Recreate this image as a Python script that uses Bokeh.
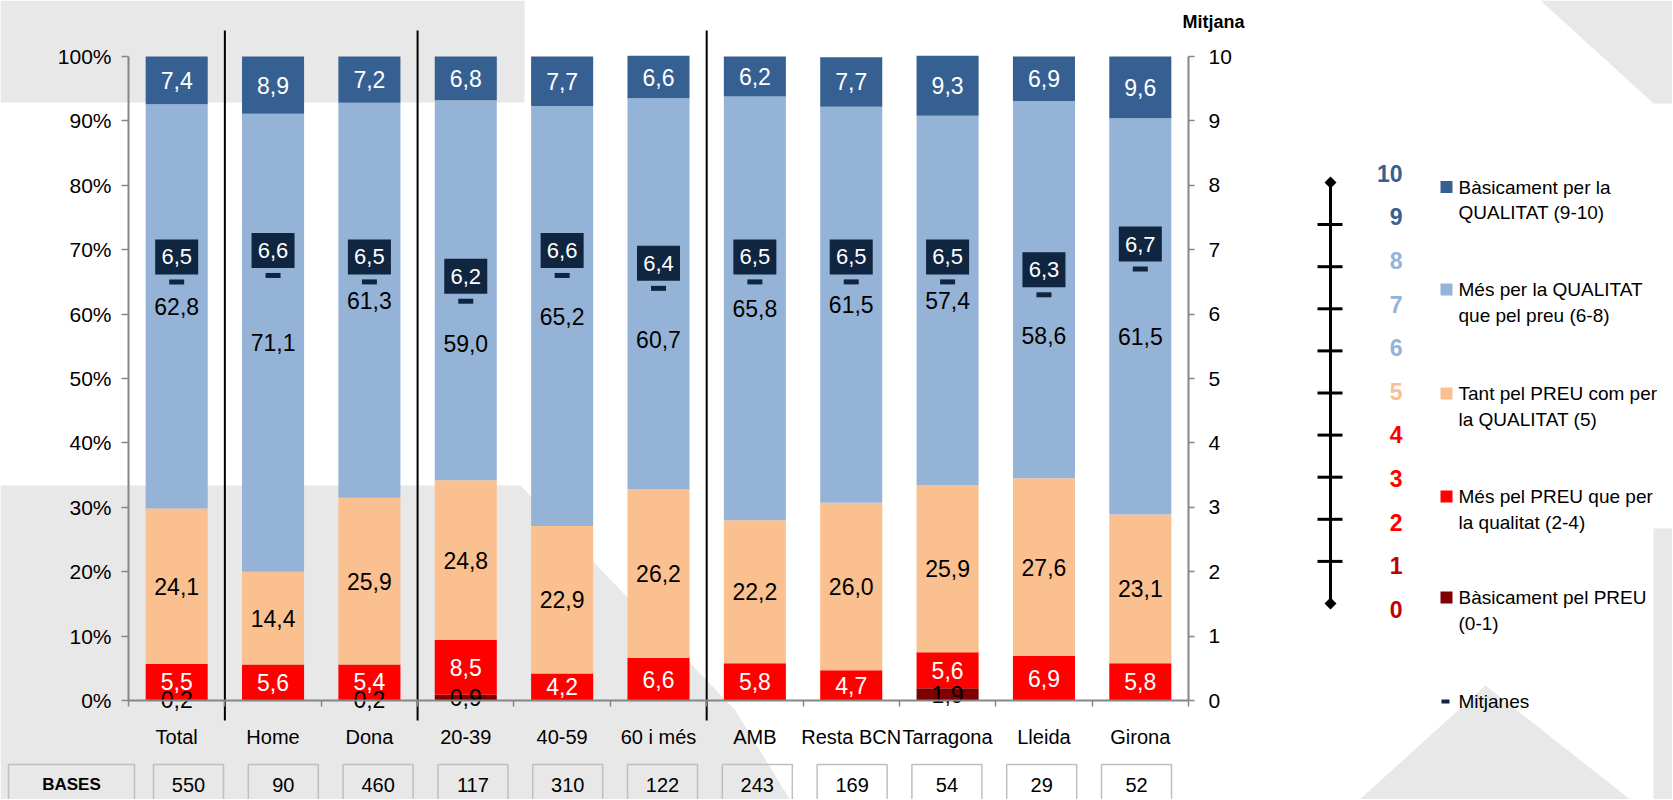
from bokeh.plotting import figure
from bokeh.models import ColumnDataSource, LinearAxis, Range1d, FixedTicker
from bokeh.core.properties import value
from bokeh.embed import file_html
from bokeh.resources import INLINE

# ---------------- data ----------------
categories = ["Total", "Home", "Dona", "20-39", "40-59", "60 i més",
              "AMB", "Resta BCN", "Tarragona", "Lleida", "Girona"]
group_sizes = [1, 2, 3, 5]
bases = [550, 90, 460, 117, 310, 122, 243, 169, 54, 29, 52]

basic_preu = [0.2, 0.0, 0.2, 0.9, 0.0, 0.0, 0.0, 0.0, 1.9, 0.0, 0.0]
mes_preu = [5.5, 5.6, 5.4, 8.5, 4.2, 6.6, 5.8, 4.7, 5.6, 6.9, 5.8]
tant = [24.1, 14.4, 25.9, 24.8, 22.9, 26.2, 22.2, 26.0, 25.9, 27.6, 23.1]
mes_qualitat = [62.8, 71.1, 61.3, 59.0, 65.2, 60.7, 65.8, 61.5, 57.4, 58.6, 61.5]
basic_qualitat = [7.4, 8.9, 7.2, 6.8, 7.7, 6.6, 6.2, 7.7, 9.3, 6.9, 9.6]
mitjana = [6.5, 6.6, 6.5, 6.2, 6.6, 6.4, 6.5, 6.5, 6.5, 6.3, 6.7]

pct_ticks = [0, 10, 20, 30, 40, 50, 60, 70, 80, 90, 100]
pct_labels = ["0%", "10%", "20%", "30%", "40%", "50%", "60%", "70%", "80%", "90%", "100%"]
mitjana_ticks = [0, 1, 2, 3, 4, 5, 6, 7, 8, 9, 10]

legend_lines = [
    ("Bàsicament per la", "QUALITAT (9-10)"),
    ("Més per la QUALITAT", "que pel preu (6-8)"),
    ("Tant pel PREU com per", "la QUALITAT (5)"),
    ("Més pel PREU que per", "la qualitat (2-4)"),
    ("Bàsicament pel PREU", "(0-1)"),
]
scale_values = [10, 9, 8, 7, 6, 5, 4, 3, 2, 1, 0]

# ---------------- style / layout ----------------
FONT = "Liberation Sans"
C_DBLUE = "#376092"
C_LBLUE = "#95B3D7"
C_PEACH = "#FAC090"
C_RED = "#FF0000"
C_DRED = "#7F0000"
NAVY = "#10253F"
GRAY_AX = "#868686"
BG_GRAY = "#E8E8E8"
scale_colors = [C_DBLUE, C_DBLUE, C_LBLUE, C_LBLUE, C_LBLUE, C_PEACH,
                C_RED, C_RED, C_RED, "#C00000", "#C00000"]
# downward nudge (px) of the "més per la qualitat" labels, moved clear of the mean boxes
lblue_label_nudge_px = [0, 0, 0, 53, 0, 46, 0, 0, 0, 46, 20]

W, H = 1672, 799
FL, FT, FR, FB = 128, 56, 1188, 700      # plot area in page pixels
n = len(categories)
xpos = list(range(n))
ppx = (FR - FL) / n
ppy = (FB - FT) / 100.0
M_SCALE = 10.0
BOX_LIFT = 25  # px between mean dash and its value box

x_rng = Range1d(-0.5 - FL / ppx, -0.5 + (W - FL) / ppx)
y_rng = Range1d(-(H - FB) / ppy, FB / ppy)
m_rng = Range1d(-(H - FB) / (ppy * M_SCALE), FB / (ppy * M_SCALE))
d = BOX_LIFT / (ppy * M_SCALE)
mbox_rng = Range1d(m_rng.start - d, m_rng.end - d)


def fmt(v):
    return f"{v:.1f}".replace(".", ",")


p = figure(width=W, height=H, min_border=0, x_range=x_rng, y_range=y_rng,
           x_axis_location=None, y_axis_location=None,
           output_backend="svg", toolbar_location=None,
           background_fill_color="white", border_fill_color="white",
           outline_line_color=None)
p.title.visible = False
p.grid.visible = False
p.extra_x_ranges = {"px": Range1d(0, W)}
p.extra_y_ranges = {"py": Range1d(H, 0), "mitjana": m_rng, "mbox": mbox_rng}
PX = dict(x_range_name="px", y_range_name="py")

# ---------------- background decoration ----------------
bg_xs = [[0, 524, 524, 0],
         [0, 520, 735, 790, 0],
         [1485, 1631, 1358],
         [1540, W, W, 1653],
         [1653, W, W, 1653]]
bg_ys = [[0, 0, 102, 102],
         [485, 485, 710, 800, 800],
         [685, 800, 800],
         [0, 0, 103, 103],
         [528, 528, 800, 800]]
p.patches(bg_xs, bg_ys, fill_color=BG_GRAY, line_color=None, **PX)

# ---------------- axes ----------------
xaxis = LinearAxis(fixed_location=0, bounds=(-0.5, n - 0.5),
                   ticker=FixedTicker(ticks=xpos, minor_ticks=[i - 0.5 for i in range(n + 1)]),
                   major_label_overrides={i: c for i, c in zip(xpos, categories)},
                   major_tick_out=0, major_tick_in=0,
                   minor_tick_out=6, minor_tick_in=0,
                   minor_tick_line_color=GRAY_AX, minor_tick_line_width=1.5,
                   axis_line_color=GRAY_AX, axis_line_width=2,
                   major_label_standoff=19,
                   major_label_text_font=FONT, major_label_text_font_size="20px",
                   major_label_text_color="black")
p.add_layout(xaxis, "below")

yaxis = LinearAxis(fixed_location=-0.5, bounds=(0, 100),
                   ticker=FixedTicker(ticks=pct_ticks),
                   major_label_overrides={t: l for t, l in zip(pct_ticks, pct_labels)},
                   major_tick_out=7, major_tick_in=0, minor_tick_out=0, minor_tick_in=0,
                   major_tick_line_color=GRAY_AX, major_tick_line_width=1.5,
                   axis_line_color=GRAY_AX, axis_line_width=2,
                   major_label_standoff=10,
                   major_label_text_font=FONT, major_label_text_font_size="21px",
                   major_label_text_color="black")
p.add_layout(yaxis, "left")

raxis = LinearAxis(y_range_name="mitjana", fixed_location=n - 0.5, bounds=(0, 10),
                   ticker=FixedTicker(ticks=mitjana_ticks),
                   major_tick_out=6, major_tick_in=0, minor_tick_out=0, minor_tick_in=0,
                   major_tick_line_color=GRAY_AX, major_tick_line_width=1.5,
                   axis_line_color=GRAY_AX, axis_line_width=2,
                   major_label_standoff=14,
                   major_label_text_font=FONT, major_label_text_font_size="21px",
                   major_label_text_color="black")
p.add_layout(raxis, "right")

# ---------------- bars ----------------
stackers = ["basic_preu", "mes_preu", "tant", "mes_qualitat", "basic_qualitat"]
series = [basic_preu, mes_preu, tant, mes_qualitat, basic_qualitat]
colors = [C_DRED, C_RED, C_PEACH, C_LBLUE, C_DBLUE]
label_colors = ["black", "white", "black", "black", "white"]
src = ColumnDataSource(dict(x=xpos, **{k: s for k, s in zip(stackers, series)}))
p.vbar_stack(stackers, x="x", width=0.644, fill_color=colors, line_color=None, source=src)

lx, ly, lt, lc = [], [], [], []
for i in range(n):
    bottom = 0.0
    for k, (s, c) in enumerate(zip(series, label_colors)):
        v = s[i]
        if v > 0:
            yc = bottom + v / 2
            if k == 3:
                yc -= lblue_label_nudge_px[i] / ppy
            lx.append(i)
            ly.append(yc)
            lt.append(fmt(v))
            lc.append(c)
        bottom += v
lsrc = ColumnDataSource(dict(x=lx, y=ly, t=lt, c=lc))
p.text(x="x", y="y", text="t", text_color="c", source=lsrc,
       text_align="center", text_baseline="middle",
       text_font=value(FONT), text_font_size=value("23px"))

# ---------------- means ----------------
msrc = ColumnDataSource(dict(x=xpos, m=mitjana, t=[fmt(m) for m in mitjana]))
p.rect(x="x", y="m", width=15, height=5, width_units="screen", height_units="screen",
       fill_color=NAVY, line_color=None, source=msrc, y_range_name="mitjana")
p.rect(x="x", y="m", width=43, height=35, width_units="screen", height_units="screen",
       fill_color=NAVY, line_color=None, source=msrc, y_range_name="mbox")
p.text(x="x", y="m", text="t", source=msrc, y_range_name="mbox",
       text_color="white", text_align="center", text_baseline="middle",
       text_font=value(FONT), text_font_size=value("22px"))

# group dividers
breaks, cum = [], 0
for g in group_sizes[:-1]:
    cum += g
    breaks.append(cum - 0.5)
p.segment(x0=breaks, x1=breaks, y0=[30] * len(breaks), y1=[720] * len(breaks),
          line_color="black", line_width=2, y_range_name="py")

p.text(x=[1213], y=[21], text=["Mitjana"], text_align="center", text_baseline="middle",
       text_font=value(FONT), text_font_size=value("18px"), text_font_style="bold",
       text_color="black", **PX)

# ---------------- BASES table ----------------
BASE_X0, BASE_DX, BASE_W = 188, 94.8, 70
bx = [BASE_X0 + BASE_DX * i for i in range(n)]
p.quad(left=[8], right=[134], top=[764], bottom=[830], fill_color=None,
       line_color="#BFBFBF", line_width=1.5, **PX)
p.text(x=[71], y=[784], text=["BASES"], text_align="center", text_baseline="middle",
       text_font=value(FONT), text_font_size=value("17px"), text_font_style="bold",
       text_color="black", **PX)
p.quad(left=[c - BASE_W / 2 for c in bx], right=[c + BASE_W / 2 for c in bx],
       top=[764] * n, bottom=[830] * n, fill_color=None,
       line_color="#BFBFBF", line_width=1.5, **PX)
p.text(x=bx, y=[784] * n, text=[str(b) for b in bases], text_align="center",
       text_baseline="middle", text_font=value(FONT), text_font_size=value("20px"),
       text_color="black", **PX)

# ---------------- right legend ----------------
leg_y = [186.5, 289, 393, 496, 597]
leg_cols = [C_DBLUE, C_LBLUE, C_PEACH, C_RED, C_DRED]
p.quad(left=[1440] * 5, right=[1452] * 5, top=[y - 6 for y in leg_y],
       bottom=[y + 6 for y in leg_y], fill_color=leg_cols, line_color=None, **PX)
tx, ty, tt = [], [], []
for (l1, l2), yc in zip(legend_lines, leg_y):
    tx += [1458, 1458]
    ty += [yc, yc + 25.5]
    tt += [l1, l2]
p.text(x=tx, y=ty, text=tt, text_align="left", text_baseline="middle",
       text_font=value(FONT), text_font_size=value("19px"), text_color="black", **PX)
p.quad(left=[1441], right=[1449], top=[699], bottom=[703], fill_color=NAVY,
       line_color=None, **PX)
p.text(x=[1458], y=[701], text=["Mitjanes"], text_align="left", text_baseline="middle",
       text_font=value(FONT), text_font_size=value("19px"), text_color="black", **PX)

# ---------------- 0-10 scale ----------------
S_X, S_TOP, S_BOT = 1330, 182, 603
step = (S_BOT - S_TOP) / 10
p.segment(x0=[S_X], y0=[S_TOP], x1=[S_X], y1=[S_BOT], line_color="black", line_width=3, **PX)
tick_y = [S_BOT - step * v for v in range(1, 10)]
p.segment(x0=[S_X - 13] * 9, y0=tick_y, x1=[S_X + 12] * 9, y1=tick_y,
          line_color="black", line_width=3, **PX)
p.patches([[S_X, S_X + 6, S_X, S_X - 6]] * 2,
          [[yv - 6, yv, yv + 6, yv] for yv in (S_TOP, S_BOT)],
          fill_color="black", line_color=None, **PX)
p.text(x=[1402] * len(scale_values), y=[609 - 43.63 * v for v in scale_values],
       text=[str(v) for v in scale_values], text_color=scale_colors,
       text_align="right", text_baseline="middle", text_font=value(FONT),
       text_font_size=value("23px"), text_font_style="bold", **PX)

open("out.html", "w").write(file_html(p, INLINE))
